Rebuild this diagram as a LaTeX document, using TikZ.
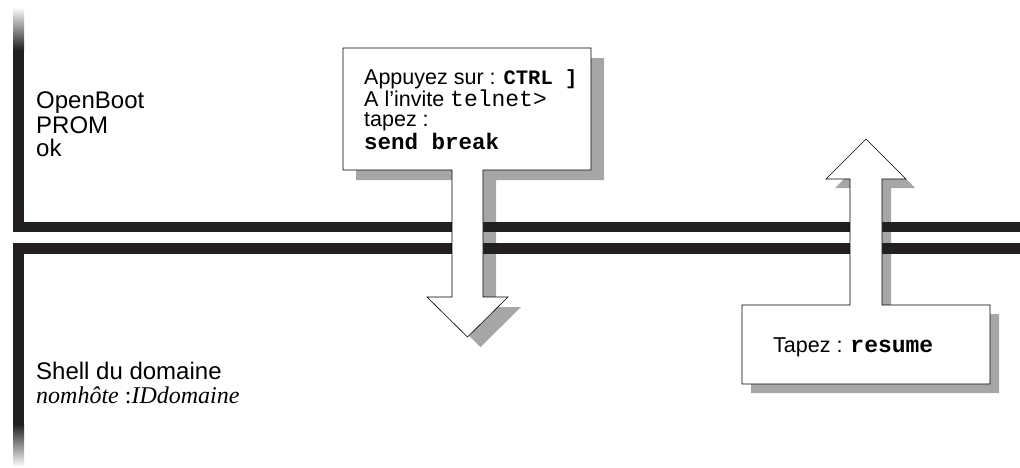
\documentclass[tikz,border=0pt]{standalone}
\usepackage{fontspec}
\setmainfont{Liberation Sans}
\setmonofont{Liberation Mono}
\newfontfamily\serifit{Liberation Serif}
\usepackage{xcolor}
\usepackage{tikz}

\definecolor{barcol}{RGB}{35,31,32}
\definecolor{shadowgray}{RGB}{166,166,166}

\tikzset{
  barfill/.style={fill=barcol},
  shadowfill/.style={fill=shadowgray},
  calloutbox/.style={draw=black, line width=0.6pt, fill=white},
  label/.style={anchor=base west, inner sep=0pt, font=\fontsize{24}{24}\selectfont},
  boxtext/.style={anchor=base west, inner sep=0pt, font=\fontsize{21.5}{22}\selectfont}
}

% callout with arrow going down, and callout with arrow going up
\newcommand{\breakshape}[1]{\path[#1] (343,48) -- (591,48) -- (591,170) -- (483,170)
  -- (483,297) -- (508,297) -- (467.5,337) -- (427,297) -- (452,297) -- (452,170)
  -- (343,170) -- cycle;}
\newcommand{\resumeshape}[1]{\path[#1] (742,305) -- (850,305) -- (850,179) -- (826,179)
  -- (866,139) -- (906,179) -- (882,179) -- (882,305) -- (990,305) -- (990,384)
  -- (742,384) -- cycle;}

\newcommand{\mono}[2]{{\fontsize{#1}{#1}\selectfont\ttfamily\bfseries #2}}

\begin{document}
\begin{tikzpicture}[x=1pt, y=-1pt]

\useasboundingbox (0,0) rectangle (1020,467);

% shadows
\breakshape{shadowfill, shift={(13,10)}}
\resumeshape{shadowfill, shift={(9,9)}}

% OpenBoot side
\shade[top color=white, bottom color=barcol] (13,7) rectangle (24,50);
\fill[barfill] (13,50) rectangle (24,232);
\fill[barfill] (13,222) rectangle (1020,232);

% domain shell side
\fill[barfill] (13,243) rectangle (1020,254);
\fill[barfill] (13,254) rectangle (24,424);
\shade[top color=barcol, bottom color=white] (13,424) rectangle (24,467);

% callouts
\breakshape{calloutbox}
\resumeshape{calloutbox}

\node[label] (obp1) at (36,108) {OpenBoot};
\node[label] (obp2) at (36,133) {PROM};
\node[label] (obp3) at (36,156) {ok};

\node[label] (shell1) at (36,379) {Shell du domaine};
\node[label] (shell2) at (36,403) {\serifit\itshape nomhôte {\upshape :}IDdomaine};

\node[boxtext] (brk1) at (364,84) {Appuyez sur : \mono{20.5}{CTRL ]}};
\node[boxtext] (brk2) at (364,106) {A l'invite {\fontsize{23}{23}\selectfont\ttfamily telnet>}};
\node[boxtext] (brk3) at (364,126) {tapez :};
\node[boxtext] (brk4) at (364,149) {\mono{22.5}{send break}};

\node[boxtext] (res) at (773,352) {Tapez : \mono{23}{resume}};

\end{tikzpicture}
\end{document}
